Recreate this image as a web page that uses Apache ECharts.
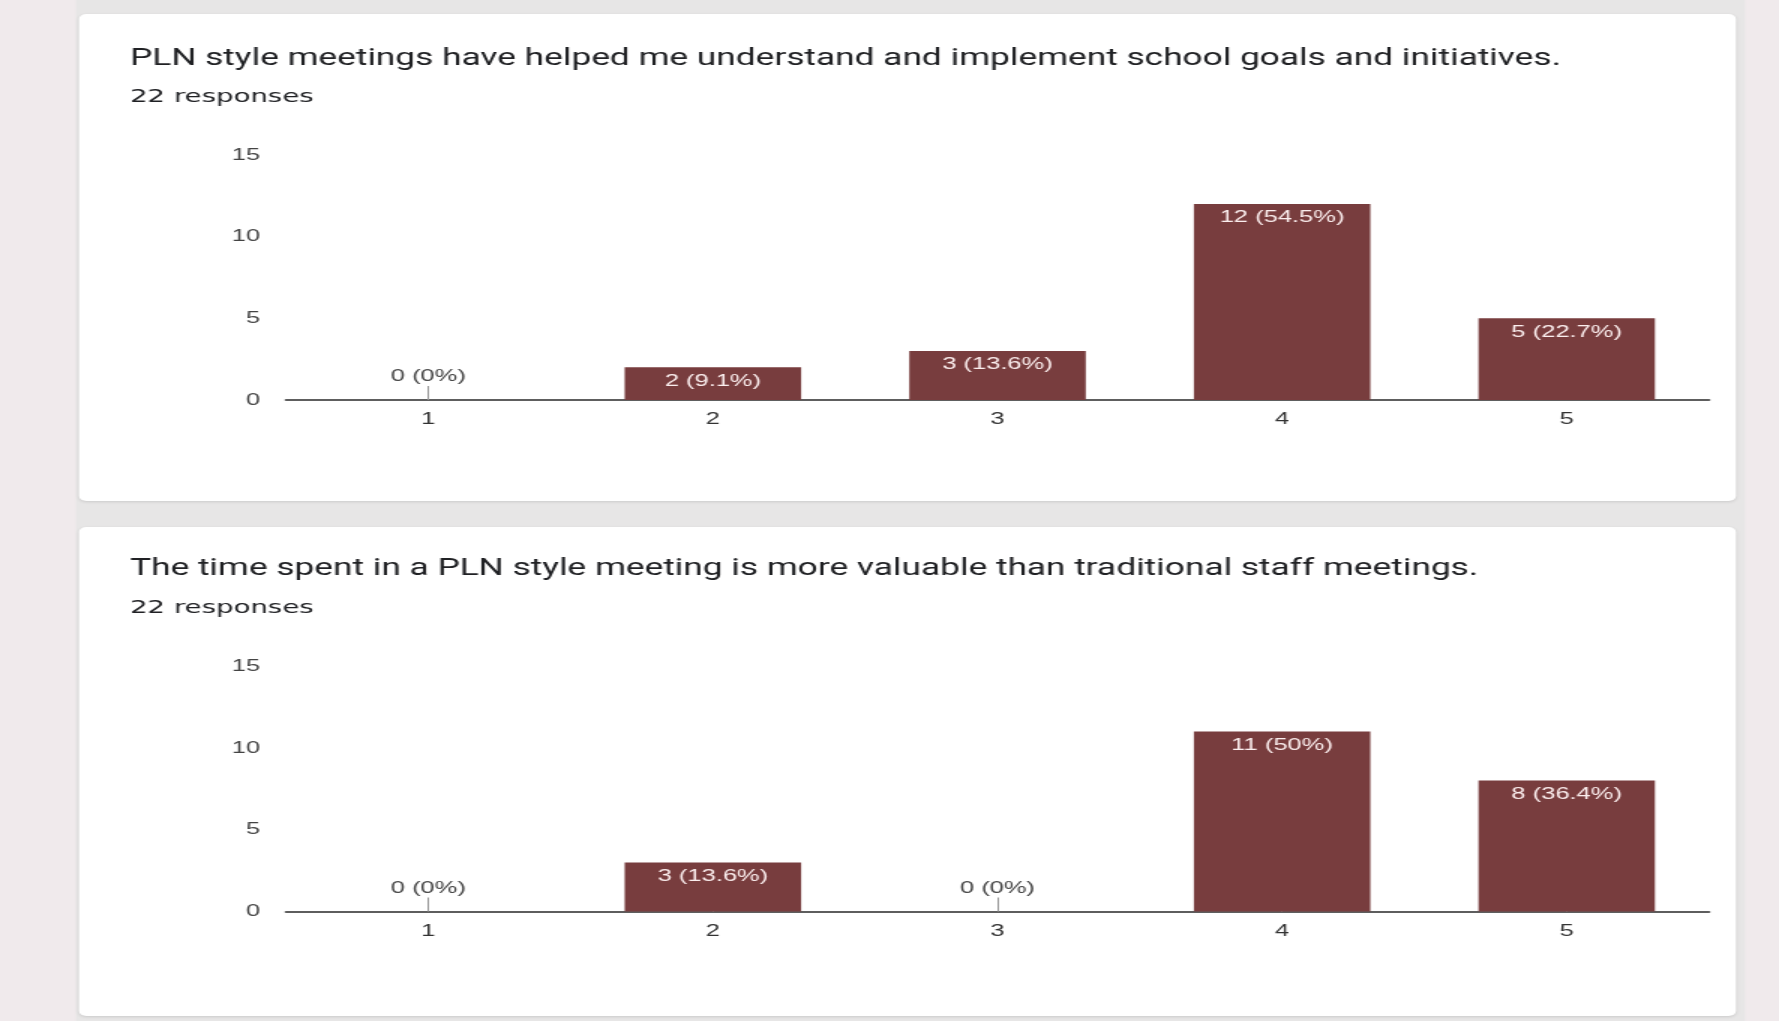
<!DOCTYPE html>
<html>
<head>
<meta charset="utf-8">
<title>PLN survey results</title>
<script src="https://cdn.jsdelivr.net/npm/echarts@6/dist/echarts.min.js"></script>
<style>
  html, body { margin: 0; padding: 0; overflow: hidden; background: #f0eaec; }
  #wrap { width: 1779px; height: 1021px; overflow: hidden; }
  /* the canvas is drawn narrow and widened, giving the wide lettering of the form summary */
  #chart { width: 1186px; height: 1021px; transform: scaleX(1.5); transform-origin: 0 0; }
</style>
</head>
<body>
<div id="wrap"><div id="chart"></div></div>
<script>
// ---- data ----
const ratings = ['1', '2', '3', '4', '5'];
const questionGoals = 'PLN style meetings have helped me understand and implement school goals and initiatives.';
const questionValue = 'The time spent in a PLN style meeting is more valuable than traditional staff meetings.';
const goalsCounts = [0, 2, 3, 12, 5];
const valueCounts = [0, 3, 0, 11, 8];
const countAxisMax = 15;
const countAxisStep = 5;

// ---- layout (page pixels; horizontal values are divided by the stretch) ----
const S = 1.5;
const sx = px => px / S;
const W = 1779;
const BAR = '#783d3e';

const total = arr => arr.reduce((a, b) => a + b, 0);
const pctText = (v, n) => {
  const p = Math.round(v / n * 1000) / 10;
  return v + ' (' + p + '%)';
};

function barData(counts) {
  const n = total(counts);
  return counts.map(v => v === 0
    ? { value: v, label: { position: 'top', distance: 15, color: '#444', formatter: pctText(v, n) } }
    : { value: v, label: { formatter: pctText(v, n) } });
}

const panels = [
  { question: questionGoals, counts: goalsCounts, cardTop: 14, cardH: 487, titleY: 57, subY: 95, gridTop: 155, gridH: 245 },
  { question: questionValue, counts: valueCounts, cardTop: 527, cardH: 489, titleY: 567, subY: 606, gridTop: 666, gridH: 245.5 }
];

const labelFont = '"Liberation Sans", Arial, sans-serif';

const option = {
  animation: false,
  backgroundColor: 'transparent',
  graphic: { elements: [
    { type: 'rect', z: -20, silent: true, shape: { x: 0, y: 0, width: sx(W), height: 1021 }, style: { fill: '#f0eaec' } },
    { type: 'rect', z: -19, silent: true, shape: { x: sx(76), y: 0, width: sx(1669), height: 1021 }, style: { fill: '#e7e6e6' } },
    ...panels.map(p => ({
      type: 'rect', z: -18, silent: true,
      shape: { x: sx(79), y: p.cardTop, width: sx(1736 - 79), height: p.cardH, r: 5 },
      style: { fill: '#ffffff', shadowBlur: 3, shadowColor: 'rgba(0,0,0,0.12)', shadowOffsetY: 1 }
    }))
  ] },
  title: panels.flatMap(p => [
    { text: p.question, left: sx(130), top: p.titleY - 12, padding: 0,
      textStyle: { fontFamily: 'Roboto, sans-serif', fontSize: 23.5, lineHeight: 28, fontWeight: 'normal', color: '#202124' } },
    { text: total(p.counts) + ' responses', left: sx(130), top: p.subY - 8, padding: 0,
      textStyle: { fontFamily: '"DejaVu Sans", sans-serif', fontSize: 18.4, lineHeight: 20, fontWeight: 'normal', color: '#202124' } }
  ]),
  grid: panels.map(p => ({ left: sx(286), right: sx(70), top: p.gridTop, height: p.gridH, containLabel: false })),
  xAxis: panels.map((p, i) => ({
    type: 'category', gridIndex: i, data: ratings,
    axisLine: { lineStyle: { color: '#5e5e5e', width: 2 } },
    axisTick: { show: true, inside: true, length: 14, alignWithLabel: true, lineStyle: { color: '#9a9a9a', width: 1 } },
    axisLabel: { fontFamily: labelFont, fontSize: 17, color: '#333', margin: 11 },
    splitLine: { show: false }
  })),
  yAxis: panels.map((p, i) => ({
    type: 'value', gridIndex: i, min: 0, max: countAxisMax, interval: countAxisStep,
    axisLine: { show: false }, axisTick: { show: false }, splitLine: { show: false },
    axisLabel: { fontFamily: labelFont, fontSize: 17, color: '#444', margin: sx(26) }
  })),
  series: panels.map((p, i) => ({
    type: 'bar', xAxisIndex: i, yAxisIndex: i, barWidth: '62%',
    itemStyle: { color: BAR },
    label: { show: true, position: 'insideTop', distance: 5, color: '#fbeeee', fontFamily: labelFont, fontSize: 17 },
    data: barData(p.counts)
  }))
};

const chart = echarts.init(document.getElementById('chart'), null, { renderer: 'canvas' });
chart.setOption(option);
</script>
</body>
</html>
